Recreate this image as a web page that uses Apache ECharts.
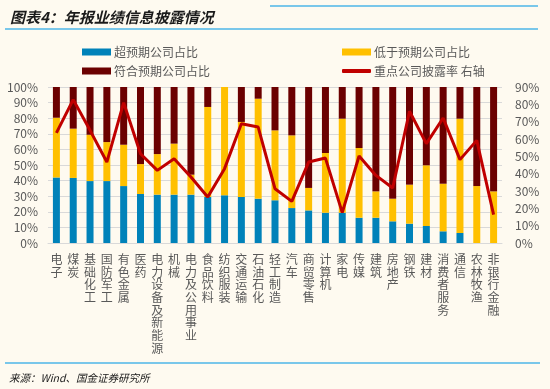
<!DOCTYPE html>
<html>
<head>
<meta charset="utf-8">
<script src="https://cdn.jsdelivr.net/npm/echarts@6/dist/echarts.min.js"></script>
<style>
html,body{margin:0;padding:0;background:#FEFAF0;}
#c{width:550px;height:389px;}
</style>
</head>
<body>
<div id="c"></div>
<script>
const categories = ['电子','煤炭','基础化工','国防军工','有色金属','医药','电力设备及新能源','机械','电力及公用事业','食品饮料','纺织服装','交通运输','石油石化','轻工制造','汽车','商贸零售','计算机','家电','传媒','建筑','房地产','钢铁','建材','消费者服务','通信','农林牧渔','非银行金融'];
const beatShare = [42,41.7,39.7,39.7,36.5,31.4,31,31,31,29.5,30.6,29.5,28.4,27.4,22.4,20.9,19.4,19.4,16.2,16.2,13.9,12.4,10.9,7.5,6.4,0,0];
const missShare = [38.3,31.6,29.7,25.0,26.5,19.2,26.0,32.7,12.8,57.7,69.4,48.1,64.1,44.8,46.6,14.4,38.3,60.3,44.7,16.9,14.5,25.0,38.9,30.5,73.3,36.5,33.1];
const meetShare = [19.7,26.7,30.6,35.3,37,49.4,43,36.3,56.2,12.8,0,22.4,7.5,27.8,31,64.7,42.3,20.3,39.1,66.9,71.6,62.6,50.2,62,20.3,63.5,66.9];
const disclosureRate = [63.5,82.7,65,46.7,81,51.5,41.9,48.6,38.1,26.5,42.9,68.8,66.9,31.3,24,46.7,49,17.5,50.2,39,31.7,76,57.3,72.1,48.1,59.2,16.4];
const leftTicks = {min:0, max:100, interval:10};
const rightTicks = {min:0, max:90, interval:10};

const font = '"Noto Sans CJK SC", sans-serif';
const legendText = {fontSize:12, color:'#595959', padding:[0,0,0,-2]};
const chart = echarts.init(document.getElementById('c'));
chart.setOption({
  backgroundColor:'#FEFAF0',
  animation:false,
  textStyle:{fontFamily:font},
  title:[
    {text:'图表4：年报业绩信息披露情况', left:5, top:5,
     textStyle:{fontSize:15, fontWeight:'bold', fontStyle:'italic', color:'#1a1a1a', fontFamily:font}},
    {text:'来源：Wind、国金证券研究所', left:4, top:368,
     textStyle:{fontSize:10.5, fontWeight:'normal', fontStyle:'italic', color:'#1a1a1a', fontFamily:font}}
  ],
  graphic:[
    {type:'line', shape:{x1:270,y1:6,x2:538,y2:6}, style:{stroke:'#4DB6E8', lineWidth:1.5}},
    {type:'line', shape:{x1:5,y1:29,x2:538,y2:29}, style:{stroke:'#4DB6E8', lineWidth:1.5}},
    {type:'line', shape:{x1:5,y1:363,x2:540,y2:363}, style:{stroke:'#4DB6E8', lineWidth:1.5}}
  ],
  legend:[
    {left:77, top:41, itemWidth:29, itemHeight:7, data:[{name:'超预期公司占比',icon:'rect'}], textStyle:legendText},
    {left:77, top:60, itemWidth:29, itemHeight:7, data:[{name:'符合预期公司占比',icon:'rect'}], textStyle:legendText},
    {left:337, top:41, itemWidth:29, itemHeight:7, data:[{name:'低于预期公司占比',icon:'rect'}], textStyle:legendText},
    {left:337, top:60, itemWidth:29, itemHeight:4, data:[{name:'重点公司披露率 右轴',icon:'roundRect'}], textStyle:legendText}
  ],
  grid:{left:48, right:48, top:87, bottom:146},
  xAxis:{type:'category', data:categories,
    axisLine:{lineStyle:{color:'#D9D9D9'}}, axisTick:{show:false},
    axisLabel:{interval:0, margin:10, fontSize:12, lineHeight:12.7, color:'#595959', verticalAlign:'top',
      formatter:v=>v.split('').join('\n')}},
  yAxis:[
    {type:'value', min:leftTicks.min, max:leftTicks.max, interval:leftTicks.interval,
     axisLabel:{formatter:'{value}%', fontSize:12, color:'#595959', margin:10},
     splitLine:{lineStyle:{color:'#D9D9D9'}}, axisLine:{show:false}, axisTick:{show:false}},
    {type:'value', min:rightTicks.min, max:rightTicks.max, interval:rightTicks.interval,
     axisLabel:{formatter:'{value}%', fontSize:12, color:'#595959', margin:13},
     splitLine:{show:false}, axisLine:{show:false}, axisTick:{show:false}}
  ],
  series:[
    {name:'超预期公司占比', type:'bar', stack:'s', data:beatShare, barWidth:7, itemStyle:{color:'#0082B9'}},
    {name:'低于预期公司占比', type:'bar', stack:'s', data:missShare, barWidth:7, itemStyle:{color:'#FFC000'}},
    {name:'符合预期公司占比', type:'bar', stack:'s', data:meetShare, barWidth:7, itemStyle:{color:'#6B0000'}},
    {name:'重点公司披露率 右轴', type:'line', yAxisIndex:1, data:disclosureRate, symbol:'none',
     lineStyle:{color:'#C00000', width:3}, itemStyle:{color:'#C00000'}}
  ]
});
</script>
</body>
</html>
